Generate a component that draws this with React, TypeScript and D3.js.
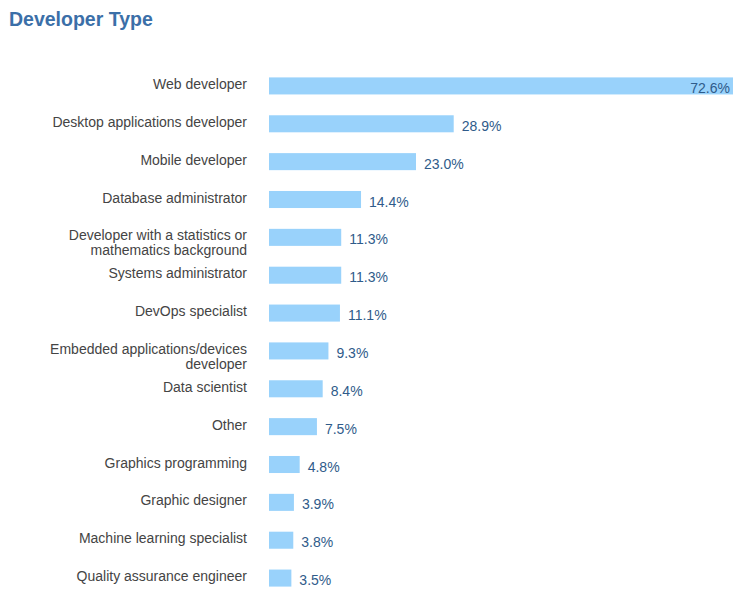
import { useEffect, useRef } from 'react';
import * as d3 from 'd3';

const categories = [
  'Web developer',
  'Desktop applications developer',
  'Mobile developer',
  'Database administrator',
  'Developer with a statistics or|mathematics background',
  'Systems administrator',
  'DevOps specialist',
  'Embedded applications/devices|developer',
  'Data scientist',
  'Other',
  'Graphics programming',
  'Graphic designer',
  'Machine learning specialist',
  'Quality assurance engineer',
];

const percents = [72.6, 28.9, 23.0, 14.4, 11.3, 11.3, 11.1, 9.3, 8.4, 7.5, 4.8, 3.9, 3.8, 3.5];

const App = () => {
  const svgRef = useRef<SVGSVGElement>(null);

  useEffect(() => {
    const width = 750;
    const height = 598;
    const font = '"Liberation Sans", Arial, sans-serif';

    const svg = d3.select(svgRef.current);
    svg.selectAll('*').remove();
    svg.attr('width', width).attr('height', height);

    svg.append('text')
      .attr('x', 9)
      .attr('y', 26)
      .attr('font-family', font)
      .attr('font-size', 19.5)
      .attr('font-weight', 'bold')
      .attr('fill', '#3b6fa8')
      .text('Developer Type');

    const data = categories.map((c, i) => ({ label: c, value: percents[i] }));

    const x = d3.scaleLinear()
      .domain([0, d3.max(percents) as number])
      .range([269, 733]);

    const y = d3.scaleBand()
      .domain(categories)
      .range([67, 597])
      .paddingInner(0.55)
      .paddingOuter(0.275);

    const g = svg.append('g');

    g.selectAll('rect')
      .data(data)
      .join('rect')
      .attr('x', x(0))
      .attr('y', d => y(d.label) as number)
      .attr('width', d => x(d.value) - x(0))
      .attr('height', y.bandwidth())
      .attr('fill', '#99d2fb');

    // category labels, split on | for two-line ones
    g.selectAll('text.cat')
      .data(data)
      .join('text')
      .attr('class', 'cat')
      .attr('text-anchor', 'end')
      .attr('font-family', font)
      .attr('font-size', 14)
      .attr('fill', '#444')
      .each(function (d) {
        const lines = d.label.split('|');
        const cy = (y(d.label) as number) + y.bandwidth() / 2;
        d3.select(this).selectAll('tspan')
          .data(lines)
          .join('tspan')
          .attr('x', 247)
          .attr('y', (_, i) => cy + 3 + i * 15);
      })
      .selectAll('tspan')
      .text(l => l as string);

    g.selectAll('text.val')
      .data(data)
      .join('text')
      .attr('class', 'val')
      .attr('font-family', font)
      .attr('font-size', 14)
      .attr('fill', '#2f5b8a')
      .attr('text-anchor', (d, i) => (i === 0 ? 'end' : 'start'))
      .attr('x', (d, i) => (i === 0 ? x(d.value) - 3 : x(d.value) + 8))
      .attr('y', d => (y(d.label) as number) + y.bandwidth() / 2 + 7)
      .text(d => `${d.value.toFixed(1)}%`);
  }, []);

  return <svg ref={svgRef} style={{ position: 'absolute', left: 0, top: 0 }}></svg>;
};

export default App;
